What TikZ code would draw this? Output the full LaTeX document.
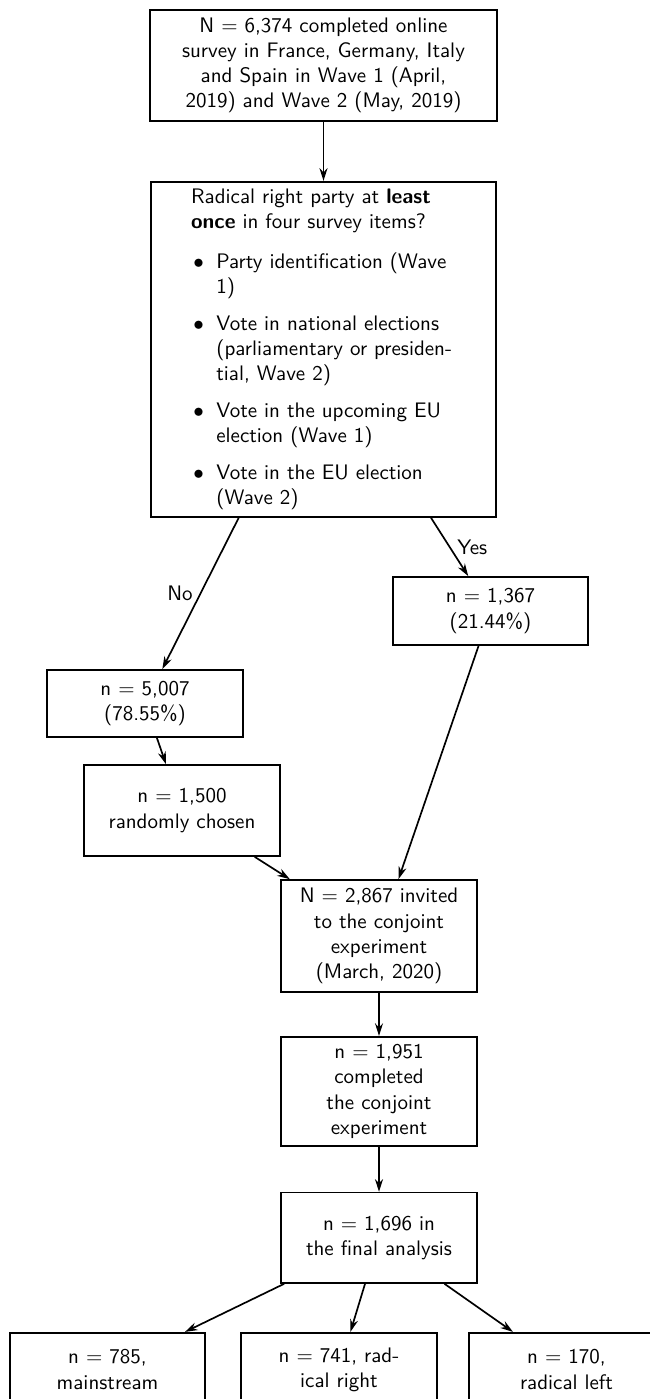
\documentclass[tikz,border=0pt]{standalone}
\usetikzlibrary{arrows.meta,positioning}
\newenvironment{itemlist}{\begin{list}{$\bullet$}{\setlength{\leftmargin}{12pt}\setlength{\labelwidth}{6pt}\setlength{\labelsep}{6pt}\setlength{\topsep}{0pt}\setlength{\partopsep}{0pt}\setlength{\itemsep}{1.5pt}\setlength{\parsep}{4pt}}}{\end{list}}

\begin{document}
\begin{tikzpicture}[x=0.476pt,y=-0.476pt,>={Stealth[length=6pt,width=3.8pt]},font=\sffamily,
  box/.style={draw,thick,text width=84pt,align=center,minimum width=93pt},
  arr/.style={->,thick}]
  \useasboundingbox (0,0) rectangle (650,1399);
  \clip (0,0) rectangle (650,1399);
  \node[box,text width=156pt,minimum width=165pt,minimum height=53pt] (survey) at (323.5,65.5) {N $=$ 6,374 completed online\\survey in France, Germany, Italy\\and Spain in Wave 1 (April,\\2019) and Wave 2 (May, 2019)};
  \node[box,text width=126pt,minimum width=164pt,minimum height=158.5pt,align=left,below=28pt of survey] (radq) {Radical right party at \textbf{least}\\\textbf{once} in four survey items?\par\vspace{7pt}
    \begin{itemlist}
      \item Party identification (Wave\newline 1)
      \item Vote in national elections\newline (parliamentary or presiden-\newline tial, Wave 2)
      \item Vote in the upcoming EU\newline election (Wave 1)
      \item Vote in the EU election\newline (Wave 2)
    \end{itemlist}};
  \node[box,minimum height=32pt] (nogrp) at (145,703.5) {n $=$ 5,007\\(78.55\%)};
  \node[box,minimum height=32.4pt] (yesgrp) at (490.5,611) {n $=$ 1,367\\(21.44\%)};
  \node[box,minimum height=43.3pt] (rand) at (182,810.5) {n $=$ 1,500\\randomly chosen};
  \node[box,minimum height=53.3pt] (invite) at (379,936) {N $=$ 2,867 invited\\to the conjoint\\experiment\\(March, 2020)};
  \node[box,minimum height=52pt,below=20.5pt of invite] (compl) {n $=$ 1,951\\completed\\the conjoint\\experiment};
  \node[box,minimum height=43pt,below=21.4pt of compl] (final) {n $=$ 1,696 in\\the final analysis};
  \node[box,minimum height=35pt] (main) at (107.5,1369.5) {n $=$ 785,\\mainstream};
  \node[box,minimum height=35pt] (rright) at (339,1369.5) {n $=$ 741, rad-\\ical right};
  \node[box,minimum height=35pt] (rleft) at (566.5,1369.5) {n $=$ 170,\\radical left};
  \draw[arr] (survey) -- (radq);
  \draw[arr] (radq) -- (nogrp) node[midway,left] {No};
  \draw[arr] (radq) -- (yesgrp) node[midway,right] {Yes};
  \draw[arr] (nogrp) -- (rand);
  \draw[arr] (rand) -- (invite);
  \draw[arr] (yesgrp) -- (invite);
  \draw[arr] (invite) -- (compl);
  \draw[arr] (compl) -- (final);
  \foreach \grp in {main,rright,rleft} \draw[arr] (final) -- (\grp);
\end{tikzpicture}
\end{document}
